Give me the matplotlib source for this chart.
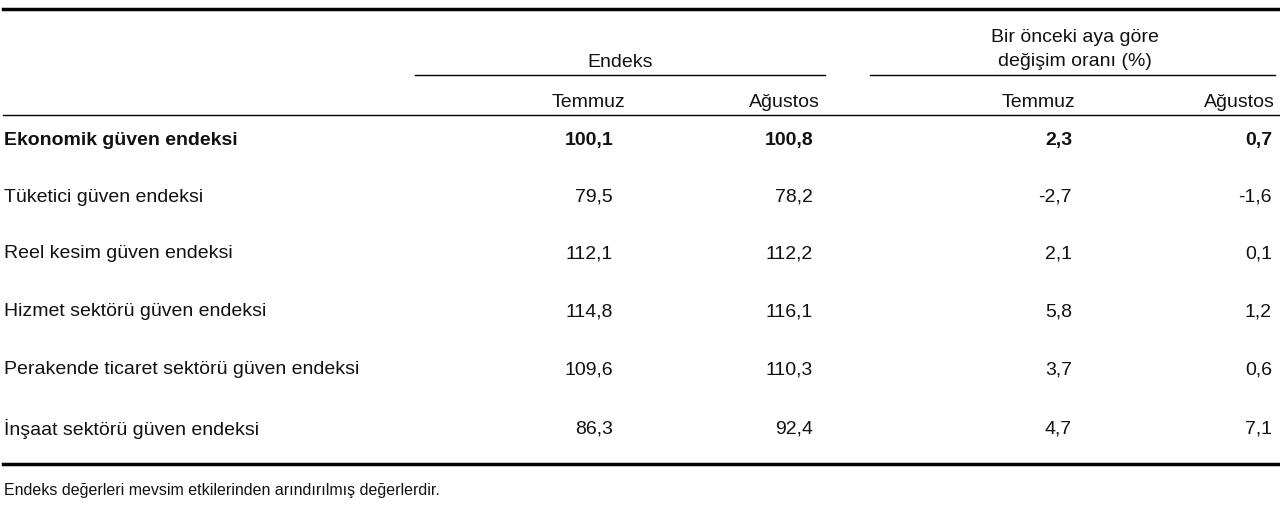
import matplotlib
matplotlib.use("Agg")
import matplotlib.pyplot as plt

plt.rcParams['font.family'] = ['Liberation Sans', 'DejaVu Sans']

rows = ["Ekonomik güven endeksi", "Tüketici güven endeksi", "Reel kesim güven endeksi",
        "Hizmet sektörü güven endeksi", "Perakende ticaret sektörü güven endeksi",
        "İnşaat sektörü güven endeksi"]
endeks_temmuz = ["100,1", "79,5", "112,1", "114,8", "109,6", "86,3"]
endeks_agustos = ["100,8", "78,2", "112,2", "116,1", "110,3", "92,4"]
degisim_temmuz = ["2,3", "-2,7", "2,1", "5,8", "3,7", "4,7"]
degisim_agustos = ["0,7", "-1,6", "0,1", "1,2", "0,6", "7,1"]
months = ["Temmuz", "Ağustos", "Temmuz", "Ağustos"]

fig = plt.figure(figsize=(12.8, 5.06), dpi=100)
ax = fig.add_axes([0, 0, 1, 1])
ax.set_xlim(0, 1280); ax.set_ylim(506, 0); ax.axis('off')
fs = 14
col = '#111111'

ax.plot([3, 1280], [10, 10], color='black', lw=2.5)
ax.text(620, 62, "Endeks", ha='center', va='center', fontsize=fs, color=col)
ax.plot([415, 825], [76, 76], color='black', lw=1)
ax.text(1075, 37, "Bir önceki aya göre", ha='center', va='center', fontsize=fs, color=col)
ax.text(1075, 61, "değişim oranı (%)", ha='center', va='center', fontsize=fs, color=col)
ax.plot([870, 1275], [76, 76], color='black', lw=1)

hx = [625, 820, 1075, 1275]
for x, m in zip(hx, months):
    ax.text(x, 102, m, ha='right', va='center', fontsize=fs, color=col)
ax.plot([3, 1280], [116, 116], color='black', lw=1)

ys = [140, 197, 254, 312, 370, 429]
vx = [613, 813, 1072, 1272]
for i, (r, y) in enumerate(zip(rows, ys)):
    w = 'bold' if i == 0 else 'normal'
    ax.text(4, y, r, ha='left', va='center', fontsize=fs, color=col, fontweight=w)
    for x, v in zip(vx, [endeks_temmuz[i], endeks_agustos[i], degisim_temmuz[i], degisim_agustos[i]]):
        ax.text(x, y, v, ha='right', va='center', fontsize=fs, color=col, fontweight=w)

ax.plot([3, 1280], [465, 465], color='black', lw=2.5)
ax.text(4, 491, "Endeks değerleri mevsim etkilerinden arındırılmış değerlerdir.",
        ha='left', va='center', fontsize=11.5, color=col)

fig.savefig("out.png", dpi=100)
